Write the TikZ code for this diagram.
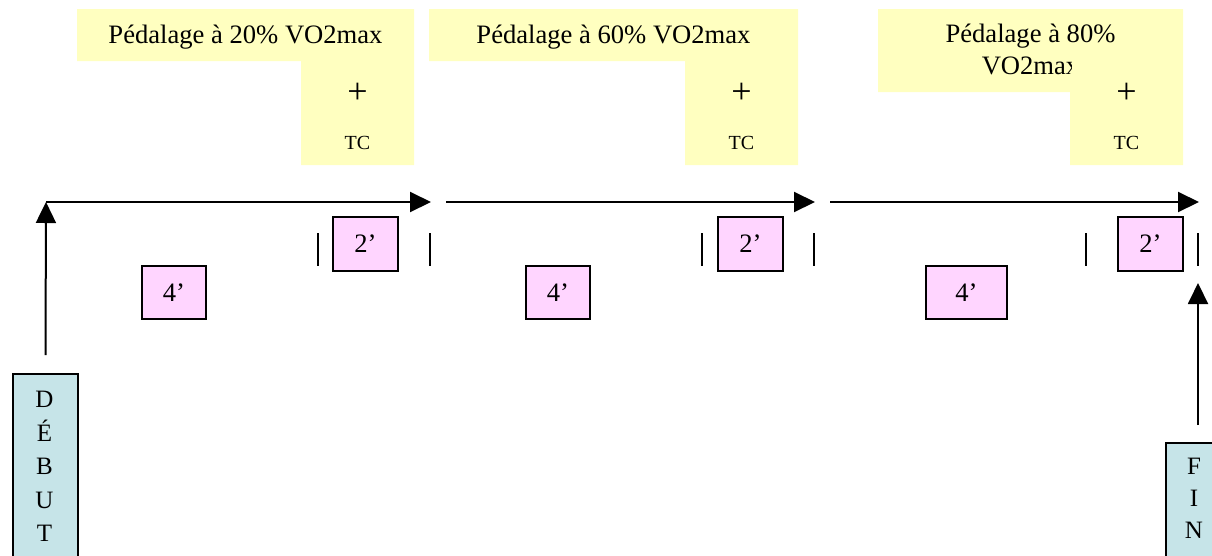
\documentclass[tikz,border=0pt]{standalone}
\usepackage{fontspec}
\setmainfont{Liberation Serif}
\usetikzlibrary{arrows.meta}
\definecolor{padyellow}{HTML}{FFFFC0}
\definecolor{durpink}{HTML}{FFD5FF}
\definecolor{endblue}{HTML}{C6E4E8}
\begin{document}
\begin{tikzpicture}[x=1pt,y=-1pt,
  phasefill/.style={fill=padyellow,draw=none},
  phasetext/.style={inner sep=0pt,font=\fontsize{26.6}{32}\selectfont},
  plus/.style={inner sep=0pt,font=\fontsize{36}{36}\selectfont},
  tc/.style={inner sep=0pt,font=\fontsize{20}{24}\selectfont},
  durbox/.style={draw=black,line width=2pt,fill=durpink,inner sep=0pt,
    minimum height=54pt,font=\fontsize{26.6}{32}\selectfont},
  endbox/.style={draw=black,line width=1.5pt,fill=endblue,inner sep=0pt,
    minimum width=65pt,anchor=north},
  vletters/.style={inner sep=0pt,align=center,anchor=north},
  flow/.style={line width=2pt,-{Triangle[length=21pt,width=20pt]}},
  tick/.style={line width=1.5pt}]
\useasboundingbox (0,0) rectangle (1212,555);
\clip (0,0) rectangle (1212,555);

% pedalling phases (L-shaped yellow panels)
\fill[phasefill] (77,9) rectangle (414,61) (301,61) rectangle (414,165);
\fill[phasefill] (429,9) rectangle (798,61) (685,61) rectangle (798,165);
\fill[phasefill] (878,9) rectangle (1183,92) (1070,92) rectangle (1183,165);

\node[phasetext,anchor=base] (p1) at (245.5,43) {Pédalage à 20\% VO2max};
\node[phasetext,anchor=base] (p2) at (613.5,43) {Pédalage à 60\% VO2max};
\node[phasetext,anchor=base] (p3a) at (1030.5,42) {Pédalage à 80\%};
\begin{scope}
  \clip (878,45) rectangle (1071,92);
  \node[phasetext,anchor=base] (p3b) at (1030.5,74) {VO2max};
\end{scope}

\node[plus] (plus1) at (357.5,93) {+};
\node[plus] (plus2) at (741.5,93) {+};
\node[plus] (plus3) at (1126.5,93) {+};
\node[tc] (tc1) at (357.5,143) {TC};
\node[tc] (tc2) at (741.5,143) {TC};
\node[tc] (tc3) at (1126.5,143) {TC};

% durations
\node[durbox,minimum width=64pt,minimum height=53pt] (d4a) at (174,292.5) {4’};
\node[durbox,minimum width=64pt,minimum height=53pt] (d4b) at (558,292.5) {4’};
\node[durbox,minimum width=81pt,minimum height=53pt] (d4c) at (966.5,292.5) {4’};
\node[durbox,minimum width=65pt] (d2a) at (365.5,244) {2’};
\node[durbox,minimum width=65pt] (d2b) at (750.5,244) {2’};
\node[durbox,minimum width=65pt] (d2c) at (1150.5,244) {2’};

% bars around the 2' intervals
\foreach \x in {318,430,702,814,1086,1198}
  \draw[tick] (\x,233) -- (\x,266);

% start and end markers
\node[endbox,minimum height=215pt] (debut) at (45.5,373) {};
\node[vletters,font=\fontsize{25}{33.5}\selectfont] (debutlbl) at (44.5,391) {D\\É\\B\\U\\T};
\node[endbox,minimum height=150pt,minimum width=64pt] (fin) at (1198,442) {};
\node[vletters,font=\fontsize{25}{32}\selectfont] (finlbl) at (1194,458) {F\\I\\N};

% time line
\coordinate (c0) at (46,202);
\coordinate (c1) at (431,202);
\coordinate (s2) at (446,202);
\coordinate (c2) at (815,202);
\coordinate (s3) at (830,202);
\coordinate (c3) at (1199,202);
\coordinate (finend) at (1198,283);

\draw[flow] ([yshift=18pt]debut.north) -- (c0);
\draw[flow] (c0) -- (c1);
\draw[flow] (s2) -- (c2);
\draw[flow] (s3) -- (c3);
\draw[flow] ([yshift=17pt]fin.north) -- (finend);
\end{tikzpicture}
\end{document}
